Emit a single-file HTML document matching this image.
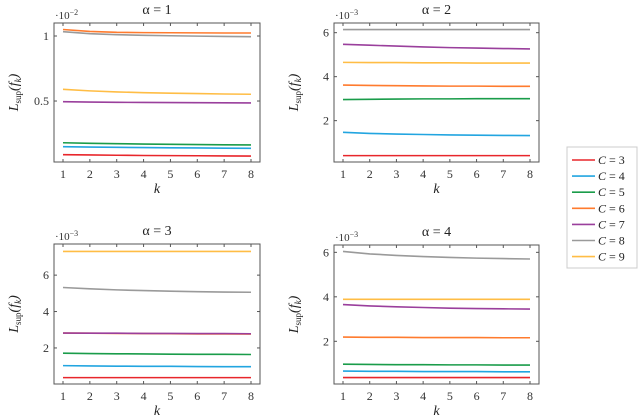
<!DOCTYPE html>
<html><head><meta charset="utf-8"><style>
body{margin:0;background:#fff;}
svg{display:block;font-family:"Liberation Serif",serif;}
</style></head><body>
<svg id="chart" width="640" height="419" viewBox="0 0 640 419"></svg>
<script>
const ks=[1,2,3,4,5,6,7,8];
const seriesNames=["C = 3","C = 4","C = 5","C = 6","C = 7","C = 8","C = 9"];
const colors=["#e8262b","#22a5e0","#1a9c4a","#ff7b2e","#9a3f9c","#9a9a9a","#ffbd45"];
// values per panel, in units of the exponent shown (alpha=1: 1e-2, others 1e-3)
const a1=[[0.087,0.085,0.083,0.081,0.080,0.079,0.078,0.077],[0.149,0.146,0.144,0.142,0.140,0.139,0.137,0.136],[0.179,0.175,0.172,0.169,0.167,0.165,0.163,0.162],[1.050,1.035,1.028,1.026,1.025,1.024,1.023,1.023],[0.495,0.492,0.490,0.489,0.488,0.487,0.486,0.485],[1.033,1.018,1.010,1.005,1.002,0.999,0.997,0.995],[0.590,0.578,0.570,0.564,0.560,0.557,0.554,0.552]];
const a2=[[0.41,0.41,0.41,0.41,0.41,0.41,0.41,0.41],[1.47,1.42,1.39,1.37,1.35,1.34,1.33,1.32],[2.96,2.97,2.98,2.99,2.99,3.00,3.00,3.00],[3.62,3.60,3.59,3.58,3.57,3.57,3.56,3.56],[5.47,5.43,5.39,5.35,5.32,5.30,5.28,5.26],[6.14,6.14,6.14,6.14,6.14,6.14,6.14,6.14],[4.65,4.64,4.64,4.63,4.63,4.62,4.62,4.62]];
const a3=[[0.37,0.37,0.37,0.37,0.37,0.37,0.37,0.37],[1.03,1.01,1.00,0.99,0.99,0.98,0.97,0.97],[1.71,1.69,1.68,1.67,1.66,1.65,1.65,1.64],[2.82,2.81,2.80,2.79,2.78,2.77,2.77,2.76],[2.82,2.81,2.81,2.80,2.80,2.79,2.79,2.78],[5.32,5.25,5.19,5.15,5.12,5.09,5.07,5.06],[7.30,7.30,7.30,7.30,7.30,7.30,7.30,7.30]];
const a4=[[0.37,0.37,0.37,0.37,0.37,0.37,0.37,0.37],[0.66,0.65,0.65,0.64,0.64,0.64,0.63,0.63],[0.97,0.96,0.95,0.95,0.94,0.94,0.93,0.93],[2.19,2.18,2.18,2.17,2.17,2.17,2.16,2.16],[3.65,3.59,3.55,3.52,3.49,3.47,3.46,3.45],[6.04,5.93,5.86,5.81,5.77,5.74,5.72,5.70],[3.89,3.89,3.89,3.89,3.89,3.89,3.89,3.89]];
const titles=["\u03b1 = 1","\u03b1 = 2","\u03b1 = 3","\u03b1 = 4"];
const yTicks1=[0.5,1];const yTickLabels1=["0.5","1"];
const yTicks2=[2,4,6];const yTickLabels2=["2","4","6"];
const exps=["\u22122","\u22123","\u22123","\u22123"];

const svg=document.getElementById('chart');
const NS="http://www.w3.org/2000/svg";
function mk(t,a,p){const e=document.createElementNS(NS,t);for(const k in a)e.setAttribute(k,a[k]);(p||svg).appendChild(e);return e;}
const panels=[
 {x0:54,x1:260,y0:23,y1:162,ymin:0.031,ymax:1.10,data:a1,ticks:yTicks1,labels:yTickLabels1},
 {x0:334,x1:539,y0:23,y1:162,ymin:0.12,ymax:6.44,data:a2,ticks:yTicks2,labels:yTickLabels2},
 {x0:54,x1:260,y0:244,y1:384,ymin:0.02,ymax:7.71,data:a3,ticks:yTicks2,labels:yTickLabels2},
 {x0:334,x1:539,y0:245,y1:384,ymin:0.08,ymax:6.33,data:a4,ticks:yTicks2,labels:yTickLabels2}];
panels.forEach((p,i)=>{
 const g=mk('g',{});
 
 
 const xs=k=>p.x0+9+(k-1)*(p.x1-p.x0-18)/7;
 const ys=v=>p.y1-(v-p.ymin)/(p.ymax-p.ymin)*(p.y1-p.y0);
 p.data.forEach((s,j)=>{
  const pl=mk('polyline',{points:s.map((v,q)=>xs(ks[q])+','+ys(v)).join(' '),fill:'none',stroke:colors[j],'stroke-width':1.6},g);
  
  
 });
 const fr=mk('rect',{x:p.x0,y:p.y0,width:p.x1-p.x0,height:p.y1-p.y0,fill:'none',stroke:'#555','stroke-width':1},g);
 
 
 ks.forEach(k=>{
  mk('line',{x1:xs(k),x2:xs(k),y1:p.y1,y2:p.y1-3,stroke:'#555'},g);
  mk('line',{x1:xs(k),x2:xs(k),y1:p.y0,y2:p.y0+3,stroke:'#555'},g);
  const t=mk('text',{x:xs(k),y:p.y1+16,'font-size':12,'text-anchor':'middle',fill:'#333'},g);t.textContent=k;
  
  
 });
 p.ticks.forEach((v,q)=>{
  mk('line',{x1:p.x0,x2:p.x0+3,y1:ys(v),y2:ys(v),stroke:'#555'},g);
  mk('line',{x1:p.x1,x2:p.x1-3,y1:ys(v),y2:ys(v),stroke:'#555'},g);
  const t=mk('text',{x:p.x0-5,y:ys(v)+4,'font-size':12,'text-anchor':'end',fill:'#333'},g);t.textContent=p.labels[q];
  
  
 });
 const ex=mk('text',{x:p.x0+1,y:p.y0-4,'font-size':11,fill:'#333'},g);
 ex.textContent='\u00b710';
 const sup=mk('tspan',{dy:-4,'font-size':8},ex);sup.textContent=exps[i];
 
 
 const ti=mk('text',{x:(p.x0+p.x1)/2,y:p.y0-9,'font-size':14,'text-anchor':'middle',fill:'#222'},g);ti.textContent=titles[i];
 
 
 const xl=mk('text',{x:(p.x0+p.x1)/2,y:p.y1+31,'font-size':14,'text-anchor':'middle','font-style':'italic',fill:'#222'},g);xl.textContent='k';
 
 
 const cy=(p.y0+p.y1)/2;
 const yl=mk('text',{x:p.x0-36,y:cy,'font-size':14,'text-anchor':'middle','font-style':'italic',fill:'#222',transform:'rotate(-90 '+(p.x0-36)+' '+cy+')'},g);
 yl.textContent='L';
 const sb=mk('tspan',{dy:3,'font-size':9,'font-style':'normal'},yl);sb.textContent='sup';
 const rest=mk('tspan',{dy:-3},yl);rest.textContent='(f';
 const kk=mk('tspan',{dy:3,'font-size':9},yl);kk.textContent='k';
 const cl=mk('tspan',{dy:-3},yl);cl.textContent=')';
 
 
});
const lg=mk('g',{});


mk('rect',{x:567,y:147,width:70,height:121,fill:'#fff',stroke:'#ccc'},lg);
seriesNames.forEach((n,j)=>{
 const y=160+j*16.1;
 const e=mk('g',{},lg);
 
 
 mk('line',{x1:572,x2:595,y1:y,y2:y,stroke:colors[j],'stroke-width':1.6},e);
 const t=mk('text',{x:598,y:y+4,'font-size':12,fill:'#222'},e);
 const c=mk('tspan',{'font-style':'italic'},t);c.textContent='C';
 const r=mk('tspan',{},t);r.textContent=' = '+n.split(' = ')[1];
});
</script>
</body></html>
